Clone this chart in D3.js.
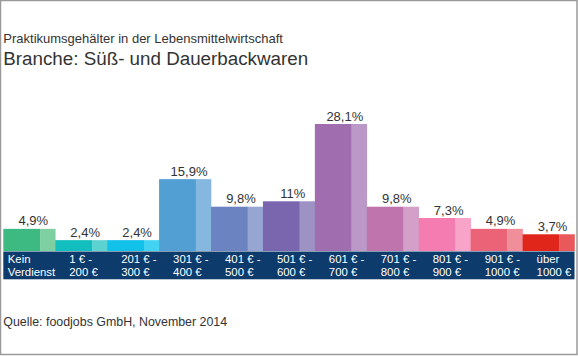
<!DOCTYPE html>
<html>
<head>
<meta charset="utf-8">
<script src="https://cdn.jsdelivr.net/npm/d3@7"></script>
<style>
  html, body { margin: 0; padding: 0; background: #fff; }
  svg { display: block; font-family: "Liberation Sans", Arial, Helvetica, sans-serif; }
</style>
</head>
<body>
<svg id="chart" width="578" height="356"></svg>
<script>
const titleText = "Praktikumsgehälter in der Lebensmittelwirtschaft";
const subtitleText = "Branche: Süß- und Dauerbackwaren";
const sourceText = "Quelle: foodjobs GmbH, November 2014";

const categories = [
  "Kein\nVerdienst", "1 € -\n200 €", "201 € -\n300 €", "301 € -\n400 €",
  "401 € -\n500 €", "501 € -\n600 €", "601 € -\n700 €", "701 € -\n800 €",
  "801 € -\n900 €", "901 € -\n1000 €", "über\n1000 €"
];
const values = [4.9, 2.4, 2.4, 15.9, 9.8, 11, 28.1, 9.8, 7.3, 4.9, 3.7];
const mainColors = ["#3dba82", "#12bfbe", "#12c1ea", "#529fd4", "#6c83c1", "#7a66ae",
  "#a06daf", "#c074ae", "#f47cb1", "#ea6377", "#e0261a"];
const lightColors = ["#7ecfa1", "#5cd3d1", "#42d2f2", "#85b7df", "#96a5d1", "#9e92c4",
  "#bb98c8", "#d3a0c9", "#f8a3c8", "#f08e9a", "#e9585a"];

const svg = d3.select("#chart");
const W = 578, H = 356;

// frame
svg.append("rect").attr("x", 0.5).attr("y", 0.5).attr("width", W - 1.5).attr("height", H - 2)
  .attr("fill", "#fff").attr("stroke", "#9a9a9a").attr("stroke-width", 1.5);

// titles
svg.append("text").attr("x", 3.3).attr("y", 42.5).attr("font-size", 13).attr("fill", "#333")
  .text(titleText);
svg.append("text").attr("x", 3.3).attr("y", 65).attr("font-size", 18.8).attr("fill", "#333")
  .text(subtitleText);
svg.append("text").attr("x", 3.3).attr("y", 326).attr("font-size", 12.4).attr("fill", "#333")
  .text(sourceText);

const x = d3.scaleBand().domain(categories).range([3.3, 574.5]).padding(0);
const y = d3.scaleLinear().domain([0, 28.1]).range([251, 124]);
const bw = x.bandwidth();
const mainFrac = 0.71;

const data = categories.map((c, i) => ({ c, v: values[i], main: mainColors[i], light: lightColors[i] }));

const g = svg.append("g");
// light right parts
g.selectAll("rect.light").data(data).join("rect").attr("class", "light")
  .attr("x", d => x(d.c) + bw * mainFrac).attr("y", d => y(d.v))
  .attr("width", bw * (1 - mainFrac) + 0.3).attr("height", d => y(0) - y(d.v))
  .attr("fill", d => d.light);
// main parts
g.selectAll("rect.main").data(data).join("rect").attr("class", "main")
  .attr("x", d => x(d.c)).attr("y", d => y(d.v))
  .attr("width", bw * mainFrac).attr("height", d => y(0) - y(d.v))
  .attr("fill", d => d.main);

// value labels
g.selectAll("text.val").data(data).join("text").attr("class", "val")
  .attr("x", d => x(d.c) + bw / 2 + 4).attr("y", d => y(d.v) - 3.5)
  .attr("text-anchor", "middle").attr("font-size", 13).attr("fill", "#333")
  .text(d => String(d.v).replace(".", ",") + "%");

// category band
svg.append("rect").attr("x", 3.3).attr("y", 251.5).attr("width", 574.5 - 3.3).attr("height", 27.5)
  .attr("fill", "#0c3b6c");
svg.append("line").attr("x1", 3.3).attr("x2", 574.5).attr("y1", 279.5).attr("y2", 279.5)
  .attr("stroke", "#b8c4d2").attr("stroke-width", 1);

// category labels
const lab = svg.append("g").selectAll("text.cat").data(data).join("text").attr("class", "cat")
  .attr("font-size", 11.4).attr("fill", "#fff");
lab.each(function(d) {
  const t = d3.select(this);
  const lines = d.c.split("\n");
  lines.forEach((ln, j) => {
    t.append("tspan").attr("y", 262.8 + j * 13).text(ln);
  });
  let w = 0;
  t.selectAll("tspan").each(function() { w = Math.max(w, this.getComputedTextLength()); });
  const left = Math.min(x(d.c) + 14, x(d.c) + bw - w);
  t.selectAll("tspan").attr("x", left);
});
</script>
</body>
</html>
